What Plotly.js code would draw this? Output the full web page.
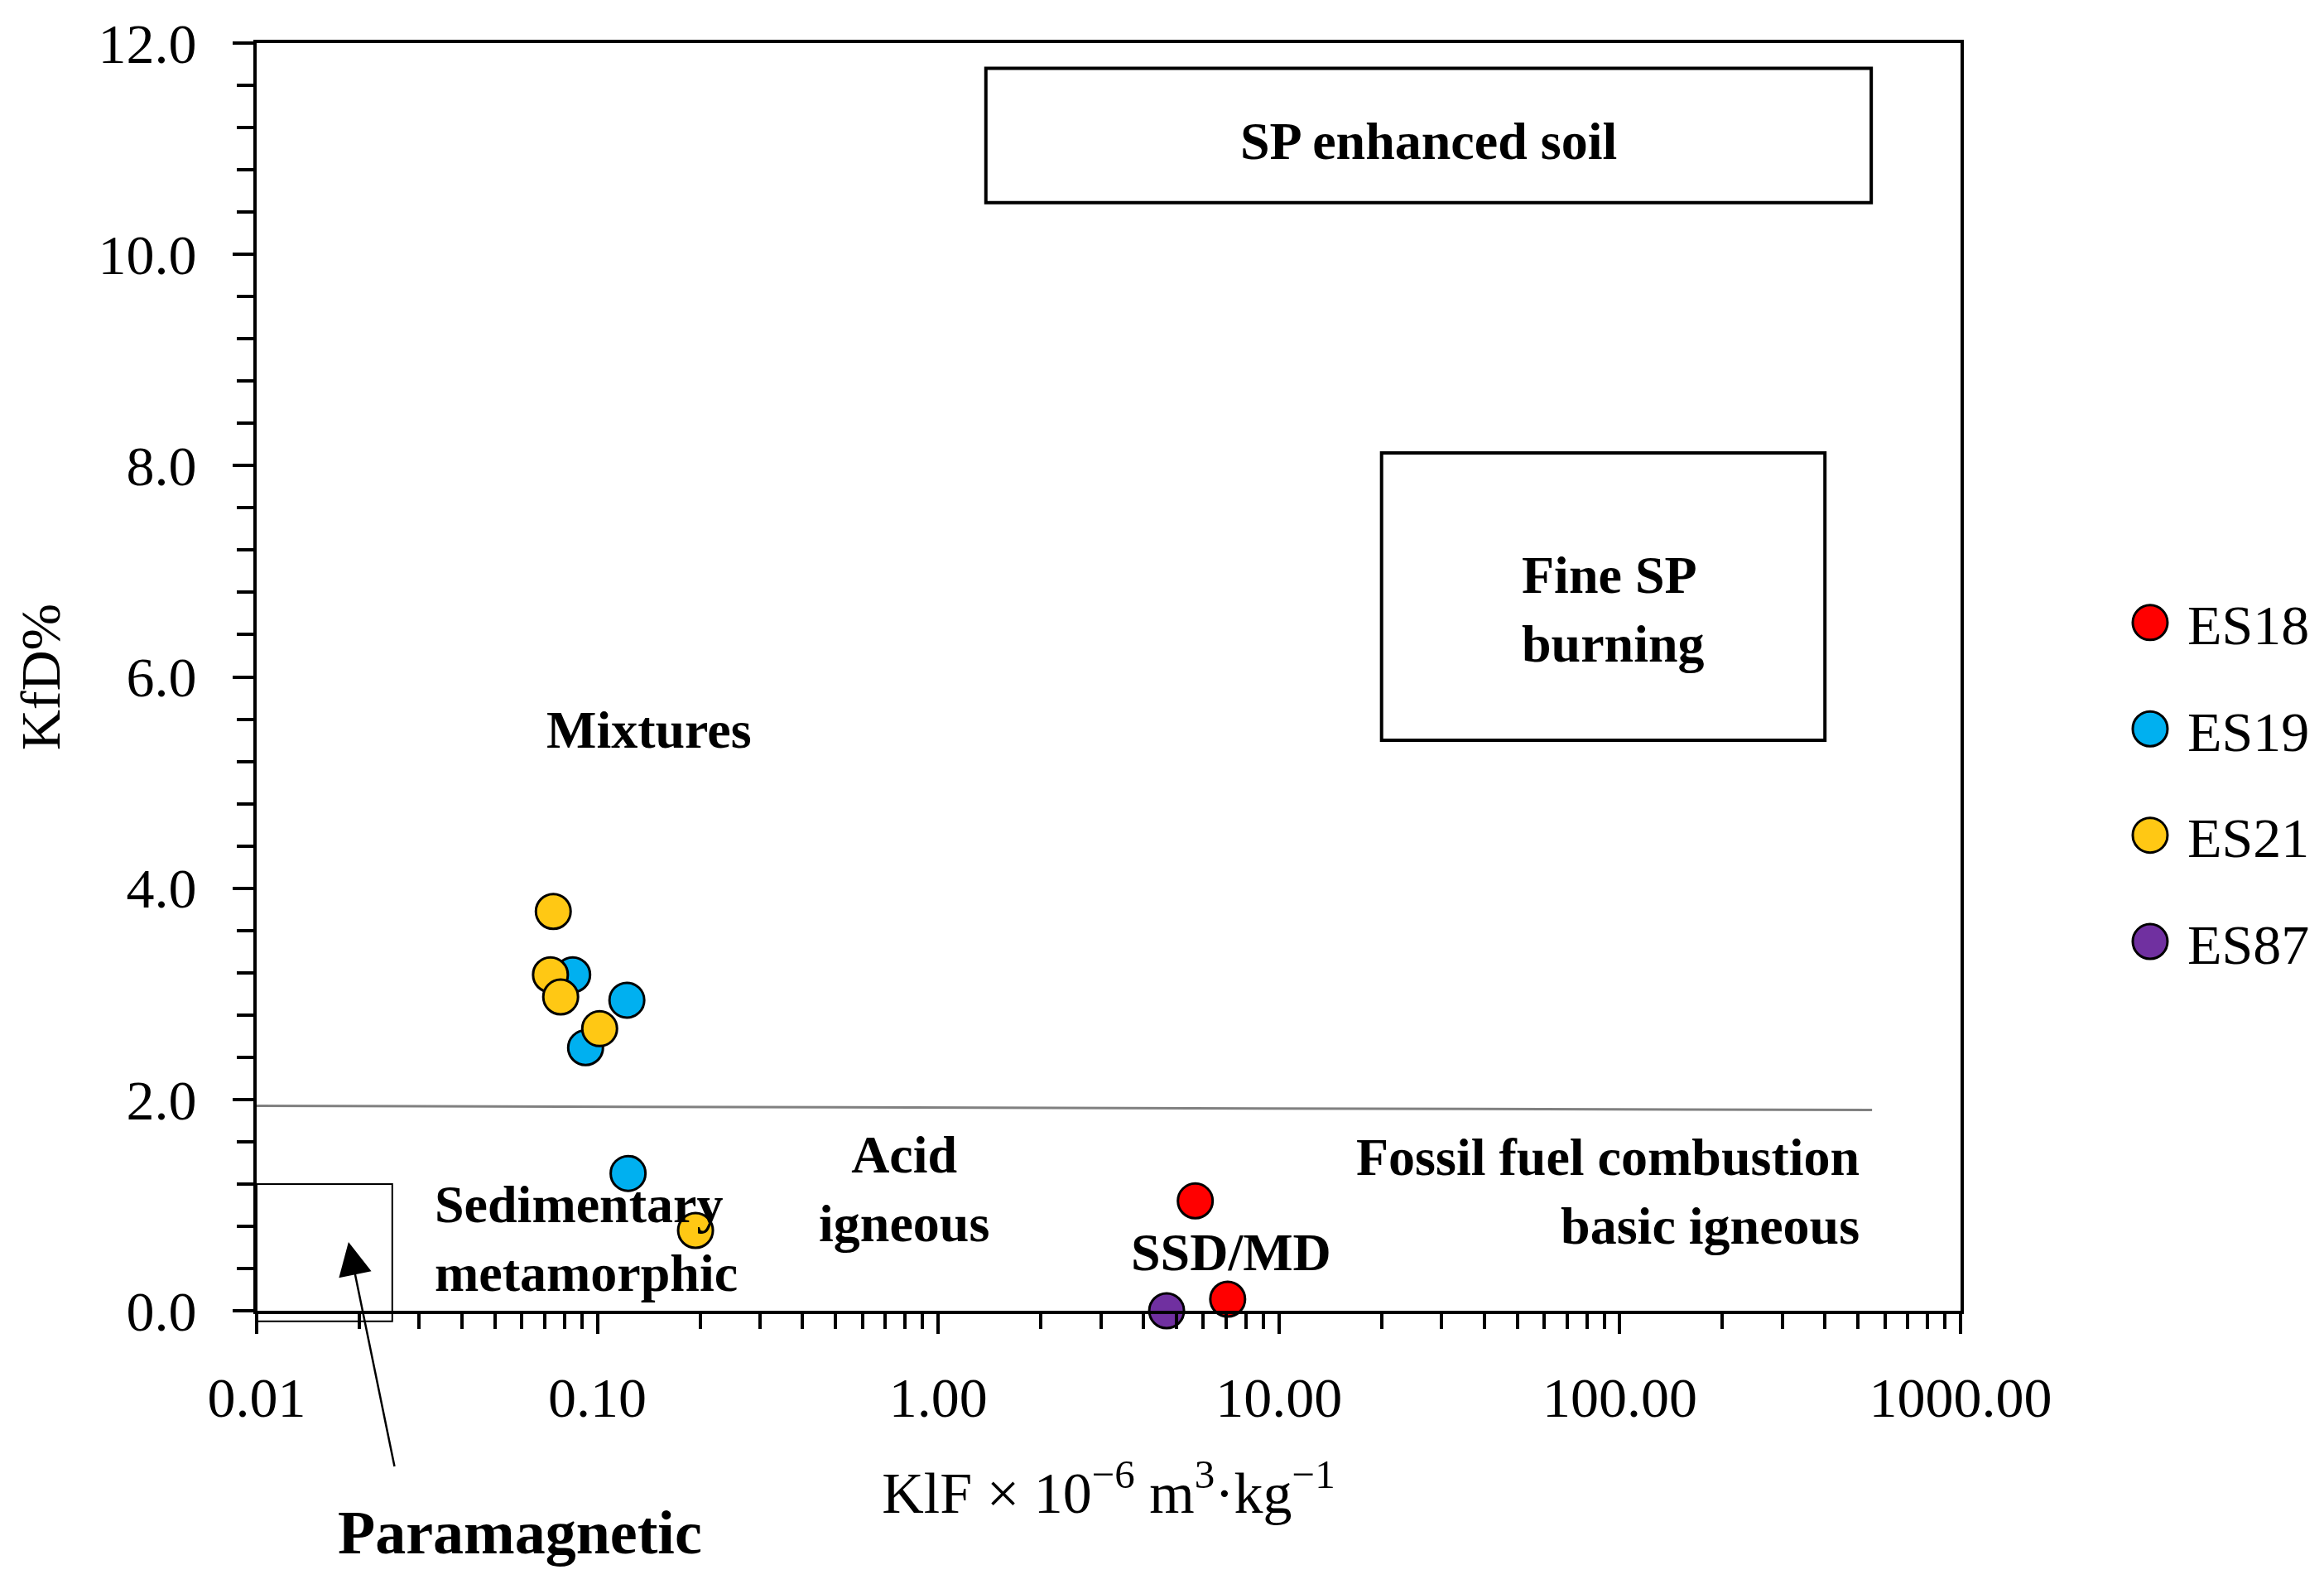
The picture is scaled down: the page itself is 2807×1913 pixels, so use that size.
<!DOCTYPE html>
<html>
<head>
<meta charset="utf-8">
<script src="https://cdn.plot.ly/plotly-3.0.1.min.js"></script>
<style>html,body{margin:0;padding:0;background:#fff;}</style>
</head>
<body>
<div id="chart" style="width:2807px;height:1913px;"></div>
<script>
// ---------------- data ----------------
const seriesNames  = ['ES18', 'ES19', 'ES21', 'ES87'];
const seriesColors = ['#FF0000', '#00B0F0', '#FFC814', '#7030A0'];

const es18X = [5.68, 7.07];
const es18Y = [1.04, 0.11];
const es19X = [0.0846, 0.122, 0.0923, 0.123];
const es19Y = [3.18, 2.94, 2.49, 1.30];
const es21X = [0.0742, 0.0728, 0.078, 0.1015, 0.194];
const es21Y = [3.78, 3.18, 2.97, 2.67, 0.76];
const es87X = [4.68];
const es87Y = [0.0];

const xTickVals = [0.01, 0.1, 1, 10, 100, 1000];
const xTickText = ['0.01', '0.10', '1.00', '10.00', '100.00', '1000.00'];
const yTickVals = [0, 2, 4, 6, 8, 10, 12];
const yTickText = ['0.0', '2.0', '4.0', '6.0', '8.0', '10.0', '12.0'];

// region boxes / boundary (data units)
const spSoilBoxX = [1.38, 547];
const spSoilBoxY = [10.49, 11.76];
const fineSpBoxX = [20, 400];
const fineSpBoxY = [5.40, 8.12];
const paraBoxX   = [0.01, 0.025];
const paraBoxY   = [-0.1, 1.2];
const boundaryX  = [0.01, 550];
const boundaryY  = [1.94, 1.90];

// region labels (data units)
const labelTexts = ['SP enhanced soil', 'Fine SP<br>burning', 'Mixtures', 'Acid<br>igneous',
                    'Sedimentary<br>metamorphic', 'SSD/MD', 'Fossil fuel combustion<br>basic igneous'];
const labelX     = [27.5, 50.9, 0.1416, 0.793, 0.0329, 7.22, 510];
const labelY     = [11.07, 6.64, 5.50, 1.15, 0.68, 0.55, 1.13];
const labelAnchor= ['center', 'left', 'center', 'center', 'left', 'center', 'right'];

const paraText = 'Paramagnetic';
const paraLabelX = 0.0592;
const paraArrowX = 0.0186;
const paraArrowY = 0.65;

// ---------------- figure ----------------
const FONT = 'Liberation Serif';
const yRange = [0, 12];
const xs = [es18X, es19X, es21X, es87X];
const ys = [es18Y, es19Y, es21Y, es87Y];

const traces = seriesNames.map((name, i) => ({
  type: 'scatter', mode: 'markers', name: name,
  x: xs[i], y: ys[i],
  legendgroup: 'g' + i,
  cliponaxis: false,
  marker: {size: 42, color: seriesColors[i], line: {color: '#000', width: 3}}
}));

const minorX = [];
for (let d = -2; d < 3; d++) for (let m = 2; m <= 9; m++) minorX.push(m * Math.pow(10, d));
const minorY = [];
for (let v = 0; v <= 12.0001; v += 0.4) minorY.push(+v.toFixed(1));

const toPaperY = v => (v - yRange[0]) / (yRange[1] - yRange[0]);

const shapes = [
  {type: 'rect', xref: 'x', yref: 'y', x0: spSoilBoxX[0], x1: spSoilBoxX[1], y0: spSoilBoxY[0], y1: spSoilBoxY[1],
   line: {color: '#000', width: 4}, fillcolor: 'rgba(0,0,0,0)'},
  {type: 'rect', xref: 'x', yref: 'y', x0: fineSpBoxX[0], x1: fineSpBoxX[1], y0: fineSpBoxY[0], y1: fineSpBoxY[1],
   line: {color: '#000', width: 4}, fillcolor: 'rgba(0,0,0,0)'},
  {type: 'rect', xref: 'x', yref: 'paper', x0: paraBoxX[0], x1: paraBoxX[1], y0: toPaperY(paraBoxY[0]), y1: toPaperY(paraBoxY[1]),
   line: {color: '#000', width: 2}, fillcolor: 'rgba(0,0,0,0)'},
  {type: 'line', xref: 'x', yref: 'y', x0: boundaryX[0], x1: boundaryX[1], y0: boundaryY[0], y1: boundaryY[1],
   line: {color: '#808080', width: 3}}
];

const annotations = labelTexts.map((t, i) => ({
  text: '<b>' + t + '</b>', xref: 'x', yref: 'y', x: Math.log10(labelX[i]), y: labelY[i],
  xanchor: labelAnchor[i], yanchor: 'middle', align: labelAnchor[i],
  showarrow: false,
  font: {family: FONT, size: 64, color: '#000'}
}));
annotations.push({
  text: '<b>' + paraText + '</b>', xref: 'x', yref: 'paper', x: Math.log10(paraLabelX), y: -0.175,
  xanchor: 'center', yanchor: 'middle', showarrow: false,
  font: {family: FONT, size: 74, color: '#000'}
});
annotations.push({
  text: ' ', xref: 'x', yref: 'y', x: Math.log10(paraArrowX), y: paraArrowY,
  showarrow: true, ax: 57, ay: 278, arrowhead: 2, arrowsize: 3.2, arrowwidth: 2.5, arrowcolor: '#000',
  standoff: 0, startstandoff: 0, font: {family: FONT, size: 10}
});

const layout = {
  width: 2807, height: 1913,
  margin: {l: 310, r: 439, t: 52, b: 330},
  paper_bgcolor: '#fff', plot_bgcolor: '#fff',
  font: {family: FONT, color: '#000', size: 68},
  showlegend: true,
  legend: {
    x: 1.0894, xanchor: 'left', y: 0.576, yanchor: 'top',
    font: {family: FONT, size: 68, color: '#000'},
    itemwidth: 80, tracegroupgap: 37, bgcolor: 'rgba(0,0,0,0)', borderwidth: 0
  },
  xaxis: {
    type: 'log', range: [-2, 3], automargin: false,
    tickmode: 'array', tickvals: xTickVals, ticktext: xTickText,
    ticks: 'outside', ticklen: 24, tickwidth: 4, tickcolor: '#000',
    ticklabelstandoff: 18,
    tickfont: {family: FONT, size: 68, color: '#000'},
    minor: {tickmode: 'array', tickvals: minorX, ticks: 'outside', ticklen: 18, tickwidth: 4, tickcolor: '#000', showgrid: false},
    showline: true, linewidth: 4, linecolor: '#000', mirror: true,
    showgrid: false, zeroline: false,
    title: {text: 'KlF × 10<sup>−6</sup> m<sup>3</sup>·kg<sup>−1</sup>', standoff: 54,
            font: {family: FONT, size: 70, color: '#000'}}
  },
  yaxis: {
    range: yRange, automargin: false,
    tickmode: 'array', tickvals: yTickVals, ticktext: yTickText,
    ticks: 'outside', ticklen: 25, tickwidth: 4, tickcolor: '#000',
    ticklabelstandoff: 30,
    tickfont: {family: FONT, size: 68, color: '#000'},
    minor: {tickmode: 'array', tickvals: minorY, ticks: 'outside', ticklen: 20, tickwidth: 4, tickcolor: '#000', showgrid: false},
    showline: true, linewidth: 4, linecolor: '#000', mirror: true,
    showgrid: false, zeroline: false,
    title: {text: 'KfD%', standoff: 25, font: {family: FONT, size: 68, color: '#000'}}
  },
  shapes: shapes,
  annotations: annotations
};

function enlargeLegendMarkers() {
  const r = 21;
  const d = 'M' + r + ',0A' + r + ',' + r + ' 0 1,1 0,-' + r + 'A' + r + ',' + r + ' 0 0,1 ' + r + ',0Z';
  document.querySelectorAll('#chart .legend .legendpoints path.scatterpts').forEach(p => {
    p.setAttribute('d', d);
    p.style.strokeWidth = '3px';
  });
}

const gd = document.getElementById('chart');
Plotly.newPlot(gd, traces, layout, {displayModeBar: false, staticPlot: true}).then(() => {
  enlargeLegendMarkers();
  gd.on('plotly_afterplot', enlargeLegendMarkers);
});
</script>
</body>
</html>
